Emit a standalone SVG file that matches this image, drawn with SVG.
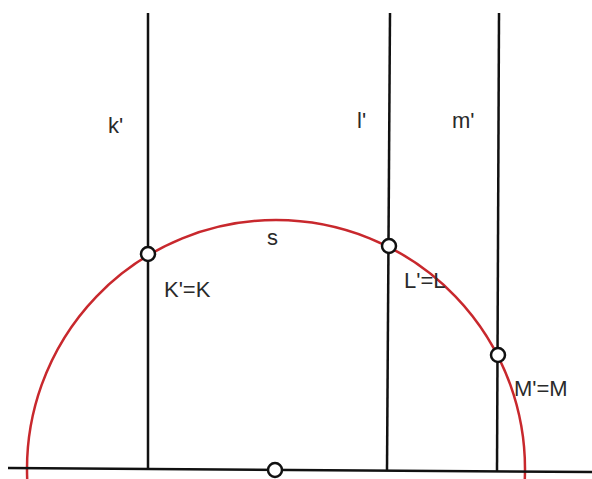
<svg xmlns="http://www.w3.org/2000/svg" width="592" height="479" viewBox="0 0 592 479">
<style>
.ln{stroke:#111;stroke-width:2.5;fill:none}
.arc{stroke:#c8282d;stroke-width:2.5;fill:none}
.pt{fill:#fff;stroke:#111;stroke-width:2.5}
.lb{font-family:"Liberation Sans",Arial,sans-serif;font-size:22px;fill:#2a2a2a}
</style>
<rect width="592" height="479" fill="#fff"/>
<g id="arc-s"><path class="arc" d="M 27.2 479 A 249 249 0 1 1 524.8 479"/></g>
<g id="connectors">
<line class="ln" x1="8" y1="468" x2="592" y2="472"/>
<line class="ln" x1="148" y1="13" x2="148" y2="469"/>
<line class="ln" x1="390" y1="13" x2="387" y2="470"/>
<line class="ln" x1="499" y1="13" x2="497" y2="471"/>
</g>
<g id="K"><circle class="pt" cx="148" cy="254" r="7"/><text class="lb" x="164" y="297">K'=K</text></g>
<g id="L"><circle class="pt" cx="389" cy="246" r="7"/><text class="lb" x="404" y="288">L'=L</text></g>
<g id="M"><circle class="pt" cx="498" cy="355" r="7"/><text class="lb" x="514" y="396">M'=M</text></g>
<g id="O"><circle class="pt" cx="275" cy="470" r="7"/></g>
<g id="labels">
<text class="lb" x="108" y="133">k'</text>
<text class="lb" x="357" y="128">l'</text>
<text class="lb" x="452" y="128">m'</text>
<text class="lb" x="267" y="245">s</text>
</g>
</svg>
